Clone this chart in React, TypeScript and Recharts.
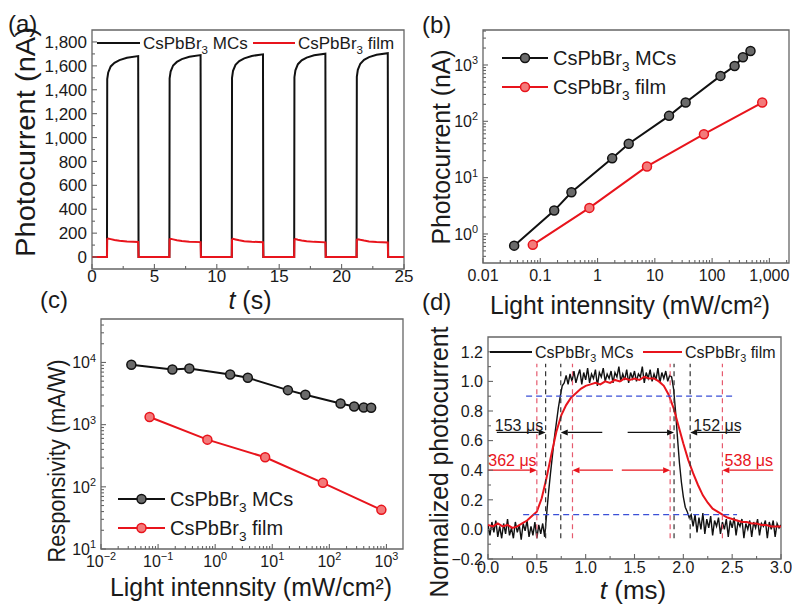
import React from 'react';
import { LineChart, Line, XAxis, YAxis, ReferenceArea, ReferenceLine, ReferenceDot } from 'recharts';

const FONT = "'Liberation Sans', Arial, Helvetica, sans-serif";
const INK = '#1a1a1a';
const BLACK = '#111111';
const RED = '#e8141c';
const FRAME = '#666666';
const BLUE_DASH = '#3b4fd6';
const RED_DASH = '#e65a6e';
const BLACK_DASH = '#333333';

// ---------- (a) photocurrent vs time ----------
const aTime = [0,
  1.2, 1.22, 1.3, 1.5, 1.8, 2.2, 2.8, 3.7, 3.73,
  6.2, 6.22, 6.3, 6.5, 6.8, 7.2, 7.8, 8.7, 8.73,
  11.2, 11.22, 11.3, 11.5, 11.8, 12.2, 12.8, 13.7, 13.73,
  16.2, 16.22, 16.3, 16.5, 16.8, 17.2, 17.8, 18.7, 18.73,
  21.2, 21.22, 21.3, 21.5, 21.8, 22.2, 22.8, 23.7, 23.73,
  25];
const aMCs = [0,
  0, 1490, 1545, 1595, 1625, 1648, 1668, 1682, 0,
  0, 1495, 1552, 1603, 1633, 1656, 1676, 1690, 0,
  0, 1500, 1558, 1609, 1640, 1663, 1683, 1696, 0,
  0, 1505, 1563, 1614, 1646, 1669, 1689, 1702, 0,
  0, 1508, 1567, 1618, 1650, 1673, 1693, 1706, 0,
  0];
const aFilm = [0,
  0, 150, 155, 150, 143, 136, 130, 126, 0,
  0, 148, 153, 148, 141, 134, 129, 125, 0,
  0, 147, 152, 147, 140, 133, 128, 124, 0,
  0, 146, 150, 145, 139, 132, 127, 123, 0,
  0, 145, 149, 144, 138, 131, 126, 122, 0,
  0];
const aXMajor = [0, 5, 10, 15, 20, 25];
const aXMinor = [2.5, 7.5, 12.5, 17.5, 22.5];
const aXLabels = ['0', '5', '10', '15', '20', '25'];
const aYMajor = [0, 200, 400, 600, 800, 1000, 1200, 1400, 1600, 1800];
const aYMinor = [100, 300, 500, 700, 900, 1100, 1300, 1500, 1700];
const aYLabels = ['0', '200', '400', '600', '800', '1,000', '1,200', '1,400', '1,600', '1,800'];

// ---------- (b) photocurrent vs light intensity ----------
const bMCsX = [0.035, 0.175, 0.35, 1.8, 3.5, 17.7, 34.5, 140, 247, 345, 468];
const bMCsY = [0.62, 2.6, 5.5, 22, 40, 125, 215, 640, 960, 1370, 1770];
const bFilmX = [0.074, 0.72, 7.3, 72, 750];
const bFilmY = [0.64, 2.9, 15.8, 59, 215];
const bXMajor = [0.01, 0.1, 1, 10, 100, 1000];
const bXLabels = ['0.01', '0.1', '1', '10', '100', '1,000'];
const bYMajor = [1, 10, 100, 1000];
const bYExp = ['0', '1', '2', '3'];

// ---------- (c) responsivity vs light intensity ----------
const cMCsX = [0.034, 0.178, 0.353, 1.83, 3.73, 18.8, 38, 157, 272, 400, 540];
const cMCsY = [9170, 7710, 8010, 6420, 5670, 3590, 3020, 2190, 1960, 1890, 1870];
const cFilmX = [0.071, 0.73, 7.5, 77, 815];
const cFilmY = [1325, 574, 299, 116, 42.6];
const cXMajor = [0.01, 0.1, 1, 10, 100, 1000];
const cXExp = ['\u22122', '\u22121', '0', '1', '2', '3'];
const cYMajor = [10, 100, 1000, 10000];
const cYExp = ['1', '2', '3', '4'];

// ---------- (d) normalized transient response ----------
const dStepMCs = 0.02;
const dMCs = [
  0.03, -0.04, 0.05, -0.02, 0.06, -0.05, 0.02, -0.06, 0.04, -0.03,
  0.07, -0.04, 0.01, -0.06, 0.05, -0.02, 0.03, -0.07, 0.04, -0.01,
  0.06, -0.05, 0.02, -0.04, 0.05, -0.06, 0.03, -0.03, 0.04, -0.05,
  0.10, 0.25, 0.38, 0.50, 0.62, 0.72, 0.82, 0.90, 0.97, 0.99, 1.04,
  0.98, 1.05, 1.00, 1.07, 0.99, 1.04, 1.08, 0.98, 1.06, 1.01,
  1.09, 0.99, 1.05, 1.02, 1.08, 0.97, 1.06, 1.03, 1.09, 1.00,
  1.05, 1.02, 1.07, 0.99, 1.06, 1.03, 1.10, 1.00, 1.05, 1.01,
  1.08, 0.99, 1.06, 1.02, 1.07, 1.00, 1.05, 1.03, 1.10, 0.99,
  1.06, 1.02, 1.08, 1.00, 1.05, 1.01, 1.09, 0.99, 1.06, 1.02,
  1.07, 1.00, 1.04, 1.03,
  0.95, 0.80, 0.62, 0.45, 0.32, 0.22, 0.15, 0.12, 0.08, 0.10,
  0.02, 0.10, -0.02, 0.08, 0.00, 0.11, -0.03, 0.07, 0.01, 0.09,
  -0.04, 0.06, 0.02, 0.08, -0.03, 0.05, 0.00, 0.07, -0.05, 0.06,
  0.01, 0.08, -0.04, 0.05, 0.02, 0.07, -0.06, 0.04, 0.00, 0.06,
  -0.05, 0.05, 0.01, 0.07, -0.04, 0.04, 0.02, 0.06, -0.06, 0.05,
  0.00, 0.06, -0.05, 0.04, 0.01, 0.03];
const dStepFilm = 0.05;
const dFilm = [
  0.03, 0.02, 0.04, 0.02, 0.03, 0.01, 0.02, 0.04, 0.06, 0.09,
  0.12, 0.21, 0.35, 0.51, 0.66, 0.77, 0.84, 0.89, 0.92, 0.95,
  0.97, 0.98, 0.99, 0.98, 1.00, 0.99, 1.01, 1.00, 1.02, 1.01,
  1.02, 1.01, 1.03, 1.02, 1.02, 1.00, 0.97, 0.91, 0.82, 0.70,
  0.58, 0.47, 0.38, 0.30, 0.23, 0.18, 0.14, 0.12, 0.10, 0.08,
  0.07, 0.06, 0.05, 0.05, 0.04, 0.04, 0.03, 0.03, 0.02, 0.02,
  0.02];
const dXMajor = [0, 0.5, 1, 1.5, 2, 2.5, 3];
const dXMinor = [0.25, 0.75, 1.25, 1.75, 2.25, 2.75];
const dXLabels = ['0.0', '0.5', '1.0', '1.5', '2.0', '2.5', '3.0'];
const dYMajor = [-0.2, 0, 0.2, 0.4, 0.6, 0.8, 1.0, 1.2];
const dYMinor = [-0.1, 0.1, 0.3, 0.5, 0.7, 0.9, 1.1];
const dYLabels = ['\u22120.2', '0.0', '0.2', '0.4', '0.6', '0.8', '1.0', '1.2'];
const dBlueLevels = [0.9, 0.1];
const dBlueFrom = [0.39, 0.36];
const dBlueTo = [2.51, 2.55];
const dMCsMarks = [0.59, 0.745, 1.905, 2.07];
const dFilmMarks = [0.5, 0.865, 1.865, 2.4];
const dMarkSpan = [-0.06, 1.12];
const dMCsArrowLevel = 0.655;
const dMCsArrows = [[0.09, 0.59], [1.17, 0.745], [1.43, 1.905], [2.58, 2.07]];
const dFilmArrowLevel = 0.4;
const dFilmArrows = [[0.0, 0.5], [1.28, 0.865], [1.37, 1.865], [2.92, 2.4]];
const dNotes = [
  { t: 0.317, v: 0.70, text: '153 \u03bcs', film: false },
  { t: 2.35, v: 0.70, text: '152 \u03bcs', film: false },
  { t: 0.25, v: 0.466, text: '362 \u03bcs', film: true },
  { t: 2.67, v: 0.466, text: '538 \u03bcs', film: true },
];

// ---------- helpers ----------
const aRows = aTime.map((t, i) => ({ t, mcs: aMCs[i], film: aFilm[i] }));
const zipXY = (xs: number[], ys: number[]) => xs.map((x, i) => ({ x, y: ys[i] }));
const dMCsRows = dMCs.map((y, i) => ({ t: +(i * dStepMCs).toFixed(3), y }));
const dFilmRows = dFilm.map((y, i) => ({ t: +(i * dStepFilm).toFixed(3), y }));

function logMinors(lo: number, hi: number): number[] {
  const out: number[] = [];
  for (let d = -3; d <= 5; d++) {
    for (let m = 2; m <= 9; m++) {
      const v = parseFloat((m * Math.pow(10, d)).toPrecision(6));
      if (v > lo && v < hi) out.push(v);
    }
  }
  return out;
}

const same = (a: number, b: number) => Math.abs(a - b) <= 1e-9 * Math.max(1e-6, Math.abs(b));

const pow10 = (e: string, fs: number) => (
  <>
    <tspan>10</tspan>
    <tspan dy={-fs * 0.42} fontSize={fs * 0.68}>{e}</tspan>
  </>
);

type TickSpec = {
  side: 'bottom' | 'left';
  majors: number[];
  labels: React.ReactNode[];
  fontSize: number;
  offset: number;
};

function makeTick(spec: TickSpec) {
  return function Tick(props: any) {
    const { x, y, payload } = props;
    const v = Number(payload && payload.value);
    const idx = spec.majors.findIndex((m) => same(v, m));
    const major = idx >= 0;
    const len = major ? 5 : 3;
    if (spec.side === 'bottom') {
      return (
        <g>
          <line x1={x} y1={y} x2={x} y2={y - len} stroke={FRAME} strokeWidth={1.1} />
          {major && (
            <text x={x} y={y + spec.offset} textAnchor="middle" fontSize={spec.fontSize} fontFamily={FONT} fill={INK}>
              {spec.labels[idx]}
            </text>
          )}
        </g>
      );
    }
    return (
      <g>
        <line x1={x} y1={y} x2={x + len} y2={y} stroke={FRAME} strokeWidth={1.1} />
        {major && (
          <text x={x - spec.offset} y={y + spec.fontSize * 0.36} textAnchor="end" fontSize={spec.fontSize} fontFamily={FONT} fill={INK}>
            {spec.labels[idx]}
          </text>
        )}
      </g>
    );
  };
}

const ArrowShape = (props: any) => {
  const { x1, y1, x2, y2, stroke } = props;
  const dx = x2 - x1;
  const dy = y2 - y1;
  const L = Math.hypot(dx, dy) || 1;
  const ux = dx / L;
  const uy = dy / L;
  const hl = 7;
  const hw = 3;
  const bx = x2 - ux * hl;
  const by = y2 - uy * hl;
  return (
    <g>
      <line x1={x1} y1={y1} x2={bx} y2={by} stroke={stroke} strokeWidth={1.3} />
      <path d={`M${x2},${y2} L${bx - uy * hw},${by + ux * hw} L${bx + uy * hw},${by - ux * hw} Z`} fill={stroke} />
    </g>
  );
};

const XH = 30;
const YW = 60;
const axisCommon = { tickSize: 0, tickMargin: 0, axisLine: false, tickLine: false, interval: 0 as const, allowDataOverflow: true };

// ---------- tick renderers ----------
const aXTick = makeTick({ side: 'bottom', majors: aXMajor, labels: aXLabels, fontSize: 17, offset: 13 });
const aYTick = makeTick({ side: 'left', majors: aYMajor, labels: aYLabels, fontSize: 17, offset: 5 });
const bXTick = makeTick({ side: 'bottom', majors: bXMajor, labels: bXLabels, fontSize: 16, offset: 18 });
const bYTick = makeTick({ side: 'left', majors: bYMajor, labels: bYExp.map((e) => pow10(e, 16)), fontSize: 16, offset: 5 });
const cXTick = makeTick({ side: 'bottom', majors: cXMajor, labels: cXExp.map((e) => pow10(e, 16)), fontSize: 16, offset: 18 });
const cYTick = makeTick({ side: 'left', majors: cYMajor, labels: cYExp.map((e) => pow10(e, 16)), fontSize: 16, offset: 5 });
const dXTick = makeTick({ side: 'bottom', majors: dXMajor, labels: dXLabels, fontSize: 16, offset: 14 });
const dYTick = makeTick({ side: 'left', majors: dYMajor, labels: dYLabels, fontSize: 16, offset: 5 });

const B_X: [number, number] = [0.01, 2200];
const B_Y: [number, number] = [0.305, 4180];
const C_X: [number, number] = [0.01, 1950];
const C_Y: [number, number] = [10, 50000];

const markerDot = (c: string, fill: string) => ({ r: 4.5, stroke: c, strokeWidth: 1.5, fill });

function Sub3({ fs, rest }: { fs: number; rest: string }) {
  return (
    <>
      <tspan>CsPbBr</tspan>
      <tspan dy={fs * 0.28} fontSize={fs * 0.68}>3</tspan>
      <tspan dy={-fs * 0.28}>{'\u00a0' + rest}</tspan>
    </>
  );
}

function LegendRow(props: { x1: number; x2: number; y: number; color: string; fill?: string; tx: number; fs: number; rest: string; sw: number }) {
  const { x1, x2, y, color, fill, tx, fs, rest, sw } = props;
  return (
    <g>
      <line x1={x1} y1={y} x2={x2} y2={y} stroke={color} strokeWidth={sw} />
      {fill && <circle cx={(x1 + x2) / 2} cy={y} r={4.5} stroke={color} strokeWidth={1.5} fill={fill} />}
      <text x={tx} y={y + fs * 0.36} fontSize={fs} fill={INK} fontFamily={FONT}>
        <Sub3 fs={fs} rest={rest} />
      </text>
    </g>
  );
}

export default function App() {
  return (
    <div style={{ position: 'absolute', left: 0, top: 0, width: 792, height: 605, background: '#fff', overflow: 'hidden' }}>
      {/* (a) */}
      <div style={{ position: 'absolute', left: 0, top: 0 }}>
        <LineChart width={420} height={300} data={aRows} margin={{ top: 30, right: 16, bottom: 31 - XH, left: 92 - YW }}>
          <XAxis dataKey="t" type="number" domain={[0, 25]} ticks={[...aXMajor, ...aXMinor]} height={XH} tick={aXTick} {...axisCommon} />
          <YAxis type="number" domain={[-100, 1900]} ticks={[...aYMajor, ...aYMinor]} width={YW} tick={aYTick} {...axisCommon} />
          <ReferenceArea x1={0} x2={25} y1={-100} y2={1900} fill="none" stroke={FRAME} strokeWidth={1.3} />
          <Line dataKey="mcs" stroke={BLACK} strokeWidth={2} dot={false} isAnimationActive={false} />
          <Line dataKey="film" stroke={RED} strokeWidth={2} dot={false} isAnimationActive={false} />
        </LineChart>
      </div>

      {/* (b) */}
      <div style={{ position: 'absolute', left: 400, top: 0 }}>
        <LineChart width={392} height={330} margin={{ top: 30, right: 3, bottom: 67 - XH, left: 83 - YW }}>
          <XAxis dataKey="x" type="number" scale="log" domain={B_X} ticks={[...bXMajor, ...logMinors(B_X[0], B_X[1])]} height={XH} tick={bXTick} {...axisCommon} />
          <YAxis type="number" scale="log" domain={B_Y} ticks={[...bYMajor, ...logMinors(B_Y[0], B_Y[1])]} width={YW} tick={bYTick} {...axisCommon} />
          <ReferenceArea x1={B_X[0]} x2={B_X[1]} y1={B_Y[0]} y2={B_Y[1]} fill="none" stroke={FRAME} strokeWidth={1.3} />
          <Line data={zipXY(bMCsX, bMCsY)} dataKey="y" stroke={BLACK} strokeWidth={2} dot={markerDot(BLACK, '#6a6a6a')} isAnimationActive={false} />
          <Line data={zipXY(bFilmX, bFilmY)} dataKey="y" stroke={RED} strokeWidth={2} dot={markerDot(RED, '#f37a7a')} isAnimationActive={false} />
        </LineChart>
      </div>

      {/* (c) */}
      <div style={{ position: 'absolute', left: 0, top: 280 }}>
        <LineChart width={410} height={325} margin={{ top: 39, right: 7, bottom: 56 - XH, left: 101 - YW }}>
          <XAxis dataKey="x" type="number" scale="log" domain={C_X} ticks={[...cXMajor, ...logMinors(C_X[0], C_X[1])]} height={XH} tick={cXTick} {...axisCommon} />
          <YAxis type="number" scale="log" domain={C_Y} ticks={[...cYMajor, ...logMinors(C_Y[0], C_Y[1])]} width={YW} tick={cYTick} {...axisCommon} />
          <ReferenceArea x1={C_X[0]} x2={C_X[1]} y1={C_Y[0]} y2={C_Y[1]} fill="none" stroke={FRAME} strokeWidth={1.3} />
          <Line data={zipXY(cMCsX, cMCsY)} dataKey="y" stroke={BLACK} strokeWidth={2} dot={markerDot(BLACK, '#6a6a6a')} isAnimationActive={false} />
          <Line data={zipXY(cFilmX, cFilmY)} dataKey="y" stroke={RED} strokeWidth={2} dot={markerDot(RED, '#f37a7a')} isAnimationActive={false} />
        </LineChart>
      </div>

      {/* (d) */}
      <div style={{ position: 'absolute', left: 400, top: 300 }}>
        <LineChart width={392} height={305} margin={{ top: 37, right: 11, bottom: 46 - XH, left: 88 - YW }}>
          <XAxis dataKey="t" type="number" domain={[0, 3]} ticks={[...dXMajor, ...dXMinor]} height={XH} tick={dXTick} {...axisCommon} />
          <YAxis type="number" domain={[-0.2, 1.3]} ticks={[...dYMajor, ...dYMinor]} width={YW} tick={dYTick} {...axisCommon} />
          <ReferenceArea x1={0} x2={3} y1={-0.2} y2={1.3} fill="none" stroke={FRAME} strokeWidth={1.3} />
          <Line data={dMCsRows} dataKey="y" stroke={BLACK} strokeWidth={1.4} dot={false} isAnimationActive={false} />
          <Line data={dFilmRows} dataKey="y" stroke={RED} strokeWidth={2} dot={false} isAnimationActive={false} />
          {dBlueLevels.map((lv, i) => (
            <ReferenceLine key={'b' + i} segment={[{ x: dBlueFrom[i], y: lv }, { x: dBlueTo[i], y: lv }]} stroke={BLUE_DASH} strokeWidth={1.3} strokeDasharray="6 4" />
          ))}
          {dMCsMarks.map((t, i) => (
            <ReferenceLine key={'k' + i} segment={[{ x: t, y: dMarkSpan[0] }, { x: t, y: dMarkSpan[1] }]} stroke={BLACK_DASH} strokeWidth={1.2} strokeDasharray="5 4" />
          ))}
          {dFilmMarks.map((t, i) => (
            <ReferenceLine key={'r' + i} segment={[{ x: t, y: dMarkSpan[0] }, { x: t, y: dMarkSpan[1] }]} stroke={RED_DASH} strokeWidth={1.2} strokeDasharray="5 4" />
          ))}
          {dMCsArrows.map((a, i) => (
            <ReferenceLine key={'ka' + i} segment={[{ x: a[0], y: dMCsArrowLevel }, { x: a[1], y: dMCsArrowLevel }]} stroke={BLACK} shape={ArrowShape} />
          ))}
          {dFilmArrows.map((a, i) => (
            <ReferenceLine key={'ra' + i} segment={[{ x: a[0], y: dFilmArrowLevel }, { x: a[1], y: dFilmArrowLevel }]} stroke={RED} shape={ArrowShape} />
          ))}
          {dNotes.map((n, i) => (
            <ReferenceDot
              key={'n' + i}
              x={n.t}
              y={n.v}
              r={0}
              fill="none"
              stroke="none"
              label={{ value: n.text, position: 'center', fill: n.film ? RED : INK, fontSize: 16, fontFamily: FONT }}
            />
          ))}
        </LineChart>
      </div>

      {/* titles, panel letters and legends */}
      <svg width={792} height={605} style={{ position: 'absolute', left: 0, top: 0, pointerEvents: 'none' }} fontFamily={FONT}>
        <text x={8} y={32} fontSize={24} fill={INK}>(a)</text>
        <text x={422} y={33} fontSize={24} fill={INK}>(b)</text>
        <text x={40} y={308} fontSize={24} fill={INK}>(c)</text>
        <text x={422} y={310} fontSize={24} fill={INK}>(d)</text>

        <text transform="translate(35,142) rotate(-90)" textAnchor="middle" fontSize={27} fill={INK} textLength={230} lengthAdjust="spacingAndGlyphs">Photocurrent (nA)</text>
        <text x={250} y={309} textAnchor="middle" fontSize={25} fill={INK}><tspan fontStyle="italic">t</tspan> (s)</text>

        <text transform="translate(450,147) rotate(-90)" textAnchor="middle" fontSize={26} fill={INK} textLength={195} lengthAdjust="spacingAndGlyphs">Photocurrent (nA)</text>
        <text x={630} y={314} textAnchor="middle" fontSize={26} fill={INK} textLength={280} lengthAdjust="spacingAndGlyphs">Light intennsity (mW/cm²)</text>

        <text transform="translate(65,461) rotate(-90)" textAnchor="middle" fontSize={23} fill={INK} textLength={203} lengthAdjust="spacingAndGlyphs">Responsivity (mA/W)</text>
        <text x={251} y={596} textAnchor="middle" fontSize={25} fill={INK} textLength={282} lengthAdjust="spacingAndGlyphs">Light intennsity (mW/cm²)</text>

        <text transform="translate(448,462) rotate(-90)" textAnchor="middle" fontSize={25} fill={INK} textLength={271} lengthAdjust="spacingAndGlyphs">Normalized photocurrent</text>
        <text x={633} y={599} textAnchor="middle" fontSize={26} fill={INK}><tspan fontStyle="italic">t</tspan> (ms)</text>

        <LegendRow x1={97} x2={140} y={43} color={BLACK} tx={143} fs={17} rest="MCs" sw={2} />
        <LegendRow x1={253} x2={295} y={43} color={RED} tx={298} fs={17} rest="film" sw={2} />

        <LegendRow x1={502} x2={548} y={58} color={BLACK} fill="#6a6a6a" tx={553} fs={20} rest="MCs" sw={2} />
        <LegendRow x1={502} x2={548} y={87} color={RED} fill="#f37a7a" tx={553} fs={20} rest="film" sw={2} />

        <LegendRow x1={118} x2={165} y={499} color={BLACK} fill="#6a6a6a" tx={170} fs={20} rest="MCs" sw={2} />
        <LegendRow x1={118} x2={165} y={528} color={RED} fill="#f37a7a" tx={170} fs={20} rest="film" sw={2} />

        <LegendRow x1={490} x2={532} y={352} color={BLACK} tx={535} fs={16} rest="MCs" sw={2} />
        <LegendRow x1={643} x2={682} y={352} color={RED} tx={685} fs={16} rest="film" sw={2} />
      </svg>
    </div>
  );
}
